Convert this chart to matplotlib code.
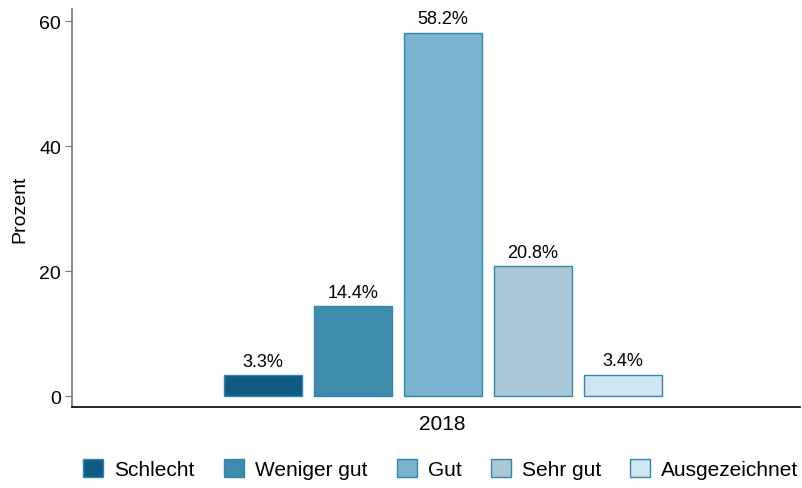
import numpy as np
import matplotlib.pyplot as plt
from matplotlib.patches import Patch

plt.rcParams['font.family'] = ['Liberation Sans', 'DejaVu Sans']

categories = ["Schlecht", "Weniger gut", "Gut", "Sehr gut", "Ausgezeichnet"]
values = [3.3, 14.4, 58.2, 20.8, 3.4]
year = "2018"
colors = ["#0f5b81", "#3f8bac", "#7ab3cf", "#abc8d8", "#cfe5f2"]
edge = "#2f87a9"

W, H = 803, 489
fig = plt.figure(figsize=(W / 100, H / 100), dpi=100)
ax = fig.add_axes([72 / W, (H - 408) / H, (800 - 72) / W, (408 - 10) / H])

x = (np.arange(len(values)) - 2) * 1.0
bars = ax.bar(x, values, width=0.867, color=colors, edgecolor=edge, linewidth=1)
for xi, v in zip(x, values):
    ax.text(xi, v + 0.9, f"{v}%", ha="center", va="bottom", fontsize=13)

ax.set_xlim(-4.12, 3.97)
ax.set_ylim(-1.75, 62.0)
ax.set_yticks([0, 20, 40, 60])
ax.set_xticks([0])
ax.set_xticklabels([year])
ax.tick_params(axis="x", length=0, labelsize=15, pad=5)
ax.tick_params(axis="y", length=5, color="#777777", labelsize=14, pad=3)
ax.set_ylabel("Prozent", fontsize=14, labelpad=8)

for s in ["top", "right"]:
    ax.spines[s].set_visible(False)
ax.spines["left"].set_color("#777777")
ax.spines["left"].set_linewidth(1.2)
ax.spines["bottom"].set_color("black")
ax.spines["bottom"].set_linewidth(1.2)

handles = [Patch(facecolor=c, edgecolor=edge, label=l) for c, l in zip(colors, categories)]
fig.legend(handles=handles, loc="center", bbox_to_anchor=(441 / W, 1 - 470 / H),
           ncol=5, frameon=False, fontsize=15, handlelength=0.96, handleheight=0.95,
           handletextpad=0.53, columnspacing=1.4, borderaxespad=0, borderpad=0)

fig.savefig("out.png", dpi=100)
